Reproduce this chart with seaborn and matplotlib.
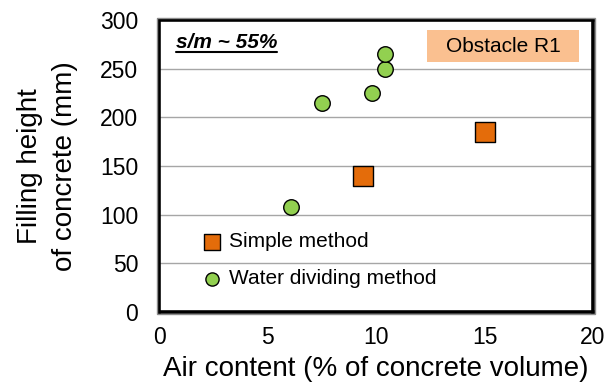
import matplotlib
matplotlib.use("Agg")
import matplotlib.pyplot as plt
from matplotlib.patches import Rectangle
import seaborn as sns
import pandas as pd

# Measured filling heights vs. air content
simple_air = [9.4, 15.0]
simple_height = [140, 185]
water_air = [6.1, 7.5, 9.8, 10.4, 10.4]
water_height = [108, 215, 225, 250, 265]

x_ticks = [0, 5, 10, 15, 20]
y_ticks = [0, 50, 100, 150, 200, 250, 300]

sns.set_theme(style="white")
plt.rcParams["font.family"] = ["Liberation Sans", "DejaVu Sans"]
plt.rcParams["text.color"] = "black"
plt.rcParams["axes.labelcolor"] = "black"

df_simple = pd.DataFrame({"air": simple_air, "height": simple_height})
df_water = pd.DataFrame({"air": water_air, "height": water_height})

W, H = 616, 385
fig = plt.figure(figsize=(W / 100, H / 100), dpi=100)
ax = fig.add_axes([159 / W, 1 - 312 / H, 434 / W, 292 / H])

# thin grey outline just outside the black plot frame
fig.patches.append(Rectangle((157 / W, 1 - 314 / H), 438 / W, 296 / H,
                             transform=fig.transFigure, fill=False,
                             edgecolor="#8c8c8c", lw=1.0))

ax.set_xlim(0, 20)
ax.set_ylim(0, 300)
for yv in y_ticks[1:-1]:
    ax.axhline(yv, color="#a6a6a6", lw=1.0, zorder=0)

sns.scatterplot(data=df_simple, x="air", y="height", ax=ax, marker="s", s=190,
                color="#E46C0A", edgecolor="black", linewidth=1.0,
                label="Simple method", zorder=3)
sns.scatterplot(data=df_water, x="air", y="height", ax=ax, marker="o", s=125,
                color="#92D050", edgecolor="black", linewidth=1.0,
                label="Water dividing method", zorder=3)

ax.set_xticks(x_ticks)
ax.set_yticks(y_ticks)
ax.tick_params(axis="both", labelsize=16.5, length=0, colors="black")
ax.tick_params(axis="y", pad=15)
ax.tick_params(axis="x", pad=10)
ax.set_xlabel("Air content (% of concrete volume)", fontsize=20,
              labelpad=5)
ax.set_ylabel("Filling height\nof concrete (mm)", fontsize=20, labelpad=16,
              linespacing=1.45)

for sp in ax.spines.values():
    sp.set_visible(True)
    sp.set_color("black")
    sp.set_linewidth(2.6)

ax.text(17 / 434, 264 / 292, "s/m ~ 55%", transform=ax.transAxes,
        fontsize=15, fontweight="bold", fontstyle="italic", ha="left",
        va="baseline")
ax.plot([17 / 434, 118 / 434], [260 / 292, 260 / 292],
        transform=ax.transAxes, color="black", lw=1.5)

ax.add_patch(Rectangle((268 / 434, 250 / 292), 152 / 434, 32 / 292,
                       transform=ax.transAxes, facecolor="#FAC090",
                       edgecolor="none", zorder=2))
ax.text(344 / 434, 266 / 292, "Obstacle R1", transform=ax.transAxes,
        fontsize=15, ha="center", va="center", zorder=3)

leg = ax.legend(loc="lower left", bbox_to_anchor=(0.055, 0.053),
                frameon=False, fontsize=15, handletextpad=-0.2,
                labelspacing=0.85, borderaxespad=0.0, markerscale=0.85)

fig.savefig("out.png", dpi=100)
